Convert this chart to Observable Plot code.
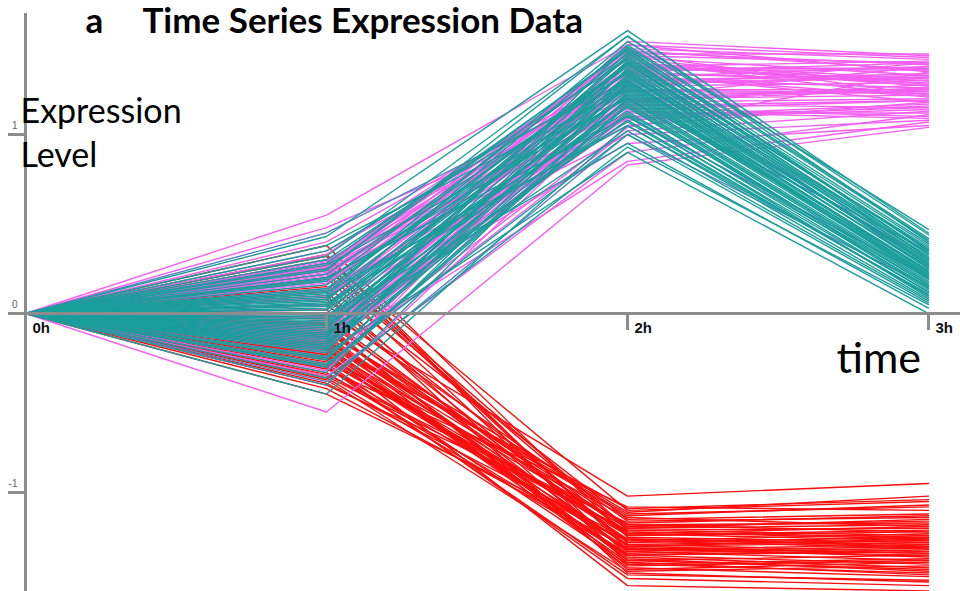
<!DOCTYPE html>
<html>
<head>
<meta charset="utf-8">
<script src="https://cdn.jsdelivr.net/npm/d3@7"></script>
<script src="https://cdn.jsdelivr.net/npm/@observablehq/plot@0.6"></script>
<style>
  html, body { margin: 0; padding: 0; background: #fff; }
  #chart { width: 960px; height: 591px; overflow: hidden; }
</style>
</head>
<body>
<div id="chart"></div>
<script>
// ---- data ----
const times = [0, 1, 2, 3];
const timeLabels = ["0h", "1h", "2h", "3h"];
const yTicks = [-1, 0, 1];
const clusters = ["cluster A", "cluster B", "cluster C", "cluster D"];
const clusterColors = ["#fb0d0d", "#f35ff0", "#5a7fc4", "#1a9e9b"];

const red1h = [0.38, 0.33, 0.30, 0.28, 0.25, 0.20, 0.15, 0.10, 0.05, 0.00, -0.03, -0.05, -0.08, -0.10, -0.12, -0.14, -0.15, -0.17, -0.18, -0.20, -0.22, -0.23, -0.25, -0.26, -0.28, -0.30, -0.31, -0.33, -0.35, -0.37, -0.40, -0.42, -0.45, -0.19, -0.24, -0.11, -0.29, 0.26, -0.16, -0.21,
  0.32, 0.22, 0.12, 0.02, -0.02, -0.06, -0.09, -0.13, -0.16, -0.20, -0.23, -0.27, -0.30, -0.34, -0.36, -0.39, -0.07, -0.18, -0.25, 0.08];
const red2h = [-1.25, -1.40, -1.10, -1.30, -1.20, -1.35, -1.15, -1.45, -1.28, -1.02, -1.33, -1.22, -1.38, -1.18, -1.30, -1.42, -1.12, -1.26, -1.36, -1.20, -1.52, -1.32, -1.14, -1.24, -1.40, -1.29, -1.08, -1.34, -1.21, -1.44, -1.17, -1.31, -1.27, -1.37, -1.23, -1.11, -1.48, -1.30, -1.19, -1.35,
  -1.32, -1.21, -1.38, -1.16, -1.27, -1.43, -1.24, -1.33, -1.13, -1.39, -1.29, -1.22, -1.46, -1.18, -1.35, -1.26, -1.41, -1.09, -1.31, -1.23];
const red3h = [-1.28, -1.45, -1.05, -1.34, -1.18, -1.40, -1.12, -1.50, -1.25, -0.95, -1.38, -1.26, -1.35, -1.22, -1.28, -1.47, -1.08, -1.30, -1.42, -1.15, -1.55, -1.29, -1.19, -1.21, -1.37, -1.33, -1.10, -1.31, -1.24, -1.41, -1.13, -1.36, -1.23, -1.44, -1.27, -1.02, -1.52, -1.26, -1.16, -1.32,
  -1.35, -1.20, -1.43, -1.14, -1.31, -1.39, -1.22, -1.30, -1.07, -1.46, -1.27, -1.25, -1.49, -1.17, -1.33, -1.29, -1.38, -1.04, -1.34, -1.19];

const mag1h = [0.55, 0.48, 0.40, 0.33, 0.30, 0.28, 0.27, 0.26, 0.25, 0.24, 0.23, 0.22, 0.20, 0.18, 0.16, 0.14, 0.12, 0.10, 0.05, 0.02, -0.02, -0.05, -0.08, -0.10, -0.12, -0.13, -0.15, -0.16, -0.18, -0.20, -0.22, -0.25, -0.28, -0.32, -0.35, -0.40, -0.55, 0.21, -0.14, 0.08,
  0.29, 0.26, 0.24, 0.22, 0.19, 0.17, 0.13, 0.09, -0.03, -0.07, -0.11, -0.14, -0.17, -0.19, -0.21, -0.24, -0.30, 0.35, 0.28, -0.09];
const mag2h = [1.50, 1.20, 1.35, 1.42, 1.10, 1.28, 1.45, 1.15, 1.38, 1.25, 1.05, 1.32, 1.48, 1.18, 1.40, 1.00, 1.30, 1.22, 1.36, 1.12, 1.44, 0.95, 1.27, 1.33, 1.08, 1.40, 1.20, 1.52, 1.14, 1.30, 0.85, 1.25, 1.02, 1.37, 0.90, 1.18, 0.83, 1.34, 1.10, 1.46,
  1.31, 1.43, 1.16, 1.38, 1.24, 1.47, 1.09, 1.35, 1.21, 1.41, 1.13, 1.29, 1.50, 1.19, 1.34, 1.04, 1.39, 1.26, 1.45, 1.17];
const mag3h = [1.35, 1.22, 1.40, 1.28, 1.15, 1.32, 1.45, 1.10, 1.30, 1.25, 1.18, 1.38, 1.42, 1.20, 1.27, 1.08, 1.33, 1.24, 1.36, 1.12, 1.40, 1.05, 1.29, 1.21, 1.16, 1.31, 1.26, 1.44, 1.19, 1.34, 1.07, 1.23, 1.13, 1.37, 1.11, 1.28, 1.04, 1.30, 1.17, 1.39,
  1.26, 1.33, 1.19, 1.41, 1.23, 1.36, 1.14, 1.29, 1.38, 1.21, 1.09, 1.32, 1.43, 1.25, 1.18, 1.35, 1.27, 1.40, 1.22, 1.15];

const blue1h = [0.45, 0.20, -0.30, -0.38, 0.05];
const blue2h = [1.30, 1.10, 1.20, 1.00, 1.40];
const blue3h = [0.30, 0.20, 0.35, 0.15, 0.25];

const teal1h = [0.43, 0.38, 0.32, 0.30, 0.27, 0.25, 0.22, 0.20, 0.18, 0.16, 0.14, 0.12, 0.10, 0.08, 0.07, 0.05, 0.04, 0.02, 0.00, -0.01, -0.03, -0.05, -0.06, -0.08, -0.10, -0.12, -0.14, -0.16, -0.18, -0.20, -0.22, -0.24, -0.26, -0.28, -0.30, -0.33, -0.36, -0.40, -0.45, 0.11,
  0.35, 0.28, 0.19, 0.13, 0.09, 0.03, -0.02, -0.04, -0.07, -0.09, -0.11, -0.13, -0.15, -0.17, -0.19, -0.21, -0.25, -0.29, 0.24, 0.06];
const teal2h = [1.58, 1.25, 1.55, 1.42, 1.20, 1.48, 1.35, 1.10, 1.45, 1.30, 1.38, 1.05, 1.40, 1.28, 1.50, 1.15, 1.33, 1.22, 1.44, 0.95, 1.36, 1.27, 1.18, 1.41, 1.08, 1.30, 1.46, 1.12, 1.25, 1.37, 0.90, 1.20, 1.32, 1.00, 1.16, 1.29, 0.93, 1.24, 1.05, 1.52,
  1.34, 1.47, 1.21, 1.39, 1.13, 1.31, 1.43, 1.26, 1.19, 1.36, 1.02, 1.49, 1.23, 1.33, 1.11, 1.40, 1.28, 1.17, 1.55, 1.07];
const teal3h = [0.45, 0.22, 0.40, 0.36, 0.18, 0.33, 0.28, 0.12, 0.38, 0.26, 0.30, 0.08, 0.34, 0.21, 0.42, 0.16, 0.25, 0.24, 0.31, 0.03, 0.27, 0.19, 0.14, 0.37, 0.10, 0.23, 0.35, 0.15, 0.20, 0.32, 0.00, 0.17, 0.29, 0.06, 0.13, 0.24, 0.05, 0.21, 0.11, 0.47,
  0.27, 0.39, 0.19, 0.33, 0.12, 0.26, 0.36, 0.22, 0.16, 0.30, 0.07, 0.41, 0.20, 0.28, 0.09, 0.31, 0.23, 0.14, 0.44, 0.10];

// ---- build long table ----
const rows = [];
function addCluster(name, a1, a2, a3) {
  a1.forEach((v, i) => {
    [0, v, a2[i], a3[i]].forEach((val, k) => {
      rows.push({id: name + "-" + i, cluster: name, t: times[k], v: val});
    });
  });
}
addCluster(clusters[0], red1h, red2h, red3h);
addCluster(clusters[1], mag1h, mag2h, mag3h);
addCluster(clusters[2], blue1h, blue2h, blue3h);
addCluster(clusters[3], teal1h, teal2h, teal3h);

const xMin = -0.0565, xMax = 3.1063;
const axisGray = "#8c8c8c";
const labelFont = "Lato";
const tickFont = "Liberation Sans";

const chart = Plot.plot({
  width: 960,
  height: 591,
  marginLeft: 8,
  marginRight: 0,
  marginTop: 13,
  marginBottom: 0,
  style: {background: "#fff", fontFamily: labelFont},
  x: {domain: [xMin, xMax], axis: null},
  y: {domain: [-1.553, 1.676], axis: null},
  color: {domain: clusters, range: clusterColors},
  marks: [
    Plot.line(rows, {x: "t", y: "v", z: "id", stroke: "cluster", strokeWidth: 1.4}),
    // axes lines
    Plot.ruleX([0], {stroke: axisGray, strokeWidth: 3}),
    Plot.ruleY([0], {stroke: axisGray, strokeWidth: 3}),
    // y ticks
    Plot.ruleY(yTicks.filter(d => d !== 0), {y: d => d, x1: xMin, x2: 0, stroke: axisGray, strokeWidth: 3}),
    Plot.text(yTicks, {x: xMin, y: d => d, text: d => String(d), dx: 9, dy: -9, textAnchor: "end", fontSize: 10, fill: "#666", fontFamily: tickFont}),
    // x ticks
    Plot.ruleX(times.slice(1), {x: d => d, y1: 0, y2: -17 / 179, stroke: axisGray, strokeWidth: 3}),
    Plot.text(times, {x: d => d, y: 0, text: (d, i) => timeLabels[i], dx: 7, dy: 9, lineAnchor: "top", textAnchor: "start", fontSize: 15, fontWeight: "bold", fill: "#111", fontFamily: tickFont}),
    // titles
    Plot.text(["a"], {frameAnchor: "top-left", dx: 77, dy: -5, lineAnchor: "top", textAnchor: "start", fontSize: 35, fontWeight: "bold", fill: "#000"}),
    Plot.text(["Time Series Expression Data"], {frameAnchor: "top-left", dx: 134, dy: -5, lineAnchor: "top", textAnchor: "start", fontSize: 35, fontWeight: "bold", fill: "#000"}),
    Plot.text(["Expression\nLevel"], {frameAnchor: "top-left", dx: 12, dy: 79, lineAnchor: "top", textAnchor: "start", fontSize: 34, lineHeight: 1.28, fill: "#000"}),
    Plot.text(["time"], {frameAnchor: "top-left", dx: 828, dy: 329, lineAnchor: "top", textAnchor: "start", fontSize: 43, fill: "#000"})
  ]
});
document.getElementById("chart").appendChild(chart);
</script>
</body>
</html>
